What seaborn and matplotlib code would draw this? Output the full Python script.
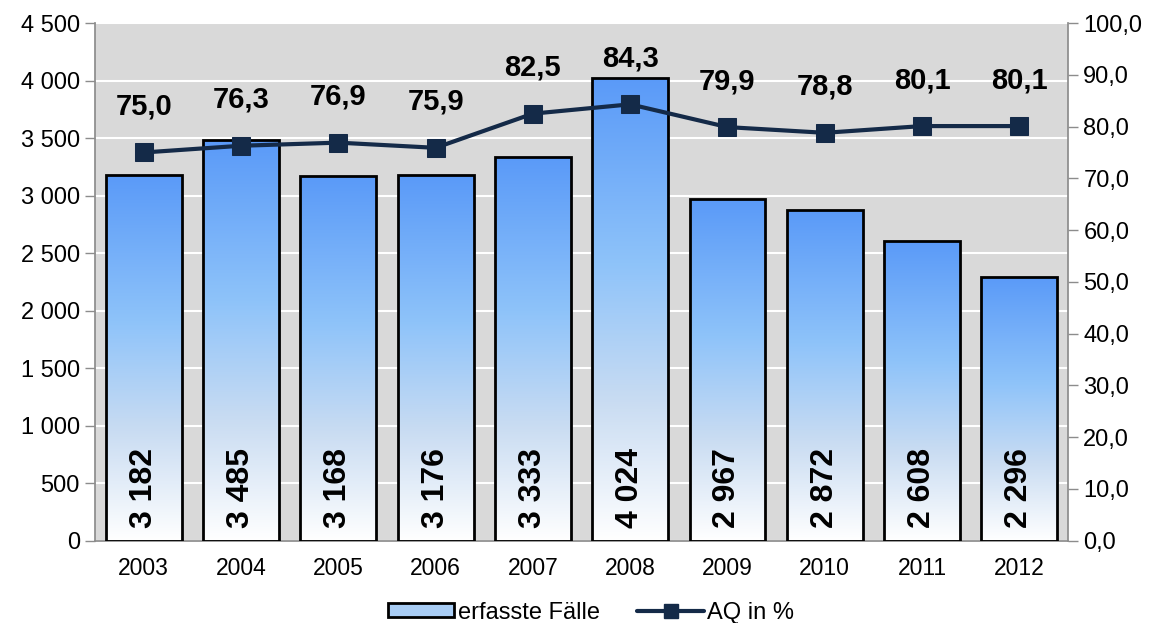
import matplotlib
matplotlib.use("Agg")
import matplotlib.pyplot as plt
from matplotlib.colors import LinearSegmentedColormap
from matplotlib.patches import Patch
from matplotlib.lines import Line2D
import seaborn as sns
import numpy as np

years = ['2003', '2004', '2005', '2006', '2007', '2008', '2009', '2010', '2011', '2012']
faelle = [3182, 3485, 3168, 3176, 3333, 4024, 2967, 2872, 2608, 2296]
aq = [75.0, 76.3, 76.9, 75.9, 82.5, 84.3, 79.9, 78.8, 80.1, 80.1]
left_ticks = list(range(0, 4501, 500))
right_ticks = list(range(0, 101, 10))

sns.set_theme(style='white')
plt.rcParams['font.family'] = ['Liberation Sans', 'DejaVu Sans']
plt.rcParams['text.color'] = 'black'
plt.rcParams['xtick.labelcolor'] = 'black'
plt.rcParams['ytick.labelcolor'] = 'black'

line_col = '#142A48'
grid_grey = '#8C8C8C'

fig = plt.figure(figsize=(11.59, 6.23), dpi=100)
ax = fig.add_axes([0.082, 0.132, 0.8395, 0.831])
ax.set_facecolor('#D9D9D9')

# bars via seaborn, then fill each with a vertical gradient
sns.barplot(x=years, y=faelle, ax=ax, width=0.78, facecolor='none',
            edgecolor='black', linewidth=2, zorder=3)
cmap = LinearSegmentedColormap.from_list(
    'grad', [(0.0, '#FFFFFF'), (0.3, '#C9DCF2'), (0.6, '#8EC3FA'), (1.0, '#5A9AF8')])
grad = np.linspace(0, 1, 256).reshape(-1, 1)
for p in ax.patches:
    x0, y0 = p.get_x(), p.get_y()
    w, h = p.get_width(), p.get_height()
    im = ax.imshow(grad, cmap=cmap, origin='lower', aspect='auto',
                   extent=[x0, x0 + w, y0, y0 + h], zorder=2)
    im.set_clip_path(p)

ax.set_xlim(-0.5, len(years) - 0.5)
ax.set_ylim(0, 4500)
ax.set_yticks(left_ticks)
ax.set_yticklabels([f'{v:,}'.replace(',', ' ') for v in left_ticks], fontsize=17)
ax.yaxis.grid(True, color='white', linewidth=1.5, zorder=1)
ax.set_axisbelow(True)
ax.set_xticks(range(len(years)))
ax.set_xticklabels(years, fontsize=16.5)
ax.set_xticks(np.arange(-0.5, len(years), 1), minor=True)
ax.tick_params(axis='x', which='major', length=0, pad=12)
ax.tick_params(axis='x', which='minor', length=7, color=grid_grey, width=1)
ax.tick_params(axis='y', length=7, color=grid_grey, width=1, left=True, pad=4)
for s in ['left', 'bottom', 'right']:
    ax.spines[s].set_color(grid_grey)
ax.spines['top'].set_visible(False)

# bar value labels
for i, v in enumerate(faelle):
    ax.annotate(f'{v:,}'.replace(',', ' '), (i, 0), xytext=(0, 13),
                textcoords='offset pixels', rotation=90, ha='center', va='bottom',
                fontsize=23, fontweight='bold', zorder=5)

# line on secondary axis
ax2 = ax.twinx()
sns.lineplot(x=np.arange(len(years)), y=aq, ax=ax2, color=line_col, linewidth=3,
             marker='s', markersize=13, markeredgecolor=line_col, zorder=6)
ax2.set_ylim(0, 100)
ax2.set_yticks(right_ticks)
ax2.set_yticklabels([f'{v:.1f}'.replace('.', ',') for v in right_ticks], fontsize=17)
ax2.tick_params(axis='y', length=7, color=grid_grey, width=1, right=True, pad=4)
for s in ax2.spines.values():
    s.set_visible(False)
for i, v in enumerate(aq):
    ax2.annotate(f'{v:.1f}'.replace('.', ','), (i, v), xytext=(0, 32),
                 textcoords='offset pixels', ha='center', va='bottom',
                 fontsize=21, fontweight='bold')

handles = [Patch(facecolor='#A9CDF5', edgecolor='black', linewidth=2),
           Line2D([0], [0], color=line_col, linewidth=3, marker='s', markersize=10)]
fig.legend(handles, ['erfasste Fälle', 'AQ in %'], loc='lower center',
           bbox_to_anchor=(0.51, -0.035), ncol=2, frameon=False, fontsize=17,
           handlelength=2.8, handleheight=0.5, handletextpad=0.15, columnspacing=1.6)

fig.savefig('out.png', dpi=100)
